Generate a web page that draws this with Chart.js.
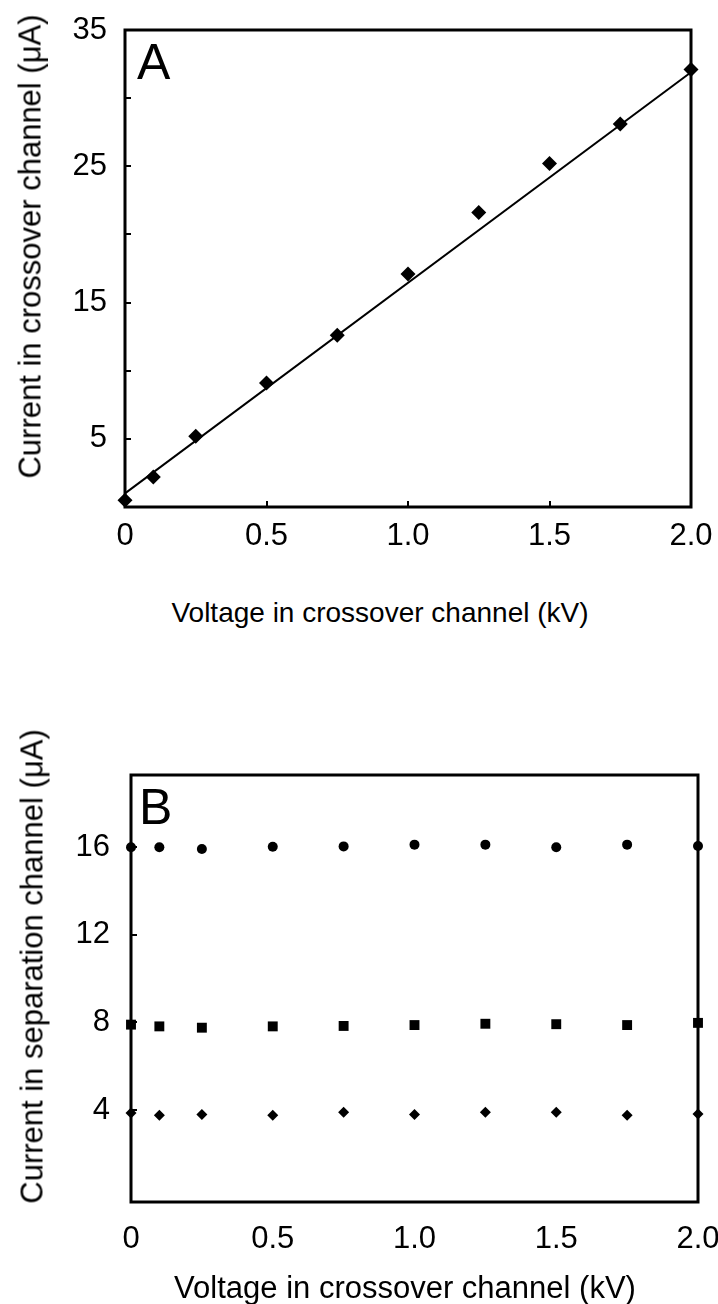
<!DOCTYPE html>
<html>
<head>
<meta charset="utf-8">
<script src="https://cdn.jsdelivr.net/npm/chart.js@4.4.0/dist/chart.umd.min.js"></script>
<style>
html, body { margin: 0; padding: 0; background: #fff; }
body { width: 718px; height: 1304px; position: relative; overflow: hidden; font-family: "Liberation Sans", Arial, sans-serif; color: #000; }
.panel { position: absolute; left: 0; width: 718px; }
#wrapA { top: 0; height: 560px; }
#wrapB { top: 720px; height: 560px; }
.tag { position: absolute; font-size: 50px; line-height: 1; }
.title { position: absolute; white-space: nowrap; text-align: center; font-size: 31px; line-height: 31px; height: 31px; }
.rot { transform: rotate(-90deg); transform-origin: 50% 50%; }
</style>
</head>
<body>
<div class="panel" id="wrapA"><canvas id="chartA"></canvas></div>
<div class="panel" id="wrapB"><canvas id="chartB"></canvas></div>
<div class="tag" style="left:137px;top:37px">A</div>
<div class="tag" style="left:139px;top:782px">B</div>
<div class="title" style="left:130px;width:500px;top:597px;font-size:28px">Voltage in crossover channel (kV)</div>
<div class="title rot" style="left:-220px;width:500px;top:231px">Current in crossover channel (&#956;A)</div>
<div class="title" style="left:155px;width:500px;top:1272px">Voltage in crossover channel (kV)</div>
<div class="title rot" style="left:-218px;width:500px;top:951px">Current in separation channel (&#956;A)</div>
<script>
// voltage steps shared by both panels (kV)
const voltage = [0, 0.1, 0.25, 0.5, 0.75, 1.0, 1.25, 1.5, 1.75, 2.0];

// panel A: crossover channel current (uA) and the fitted line
const crossoverCurrent = [0.5, 2.2, 5.2, 9.1, 12.6, 17.1, 21.6, 25.2, 28.1, 32.1];
const fitVoltage = [0, 2.0];
const fitCurrent = [1.0, 31.9];

// panel B: separation channel current (uA), three runs
const sepCircle = [16.0, 16.0, 15.92, 16.02, 16.04, 16.12, 16.12, 16.0, 16.12, 16.06];
const sepSquare = [7.9, 7.82, 7.76, 7.82, 7.84, 7.88, 7.94, 7.92, 7.88, 7.98];
const sepDiamond = [3.86, 3.76, 3.8, 3.76, 3.9, 3.8, 3.9, 3.9, 3.76, 3.82];

// ticks
const xTickValues = [0, 0.5, 1.0, 1.5, 2.0];
const xTickLabels = ['0', '0.5', '1.0', '1.5', '2.0'];
const yTickMarksA = [0, 5, 10, 15, 20, 25, 30, 35];
const yTickLabelsA = [5, 15, 25, 35];
const yTicksB = [4, 8, 12, 16];

const FONT = '"Liberation Sans", Arial, sans-serif';

const toPoints = (xs, ys) => xs.map((x, i) => ({ x: x, y: ys[i] }));

// box around the plot area
const frame = {
    id: 'frame',
    beforeDatasetsDraw(chart) {
        const { ctx, chartArea } = chart;
        ctx.save();
        ctx.strokeStyle = '#000';
        ctx.lineWidth = 3;
        ctx.strokeRect(chartArea.left, chartArea.top, chartArea.right - chartArea.left, chartArea.bottom - chartArea.top);
        ctx.restore();
    }
};

function xLabel(value) {
    const i = xTickValues.indexOf(value);
    return i >= 0 ? xTickLabels[i] : '';
}

// fixed axis box sizes, no extra room for edge labels
function fixSize(w, h) {
    return scale => {
        if (w !== null) scale.width = w;
        if (h !== null) scale.height = h;
        scale.paddingTop = 0;
        scale.paddingBottom = 0;
        scale.paddingLeft = 0;
        scale.paddingRight = 0;
    };
}

// panel A
new Chart(document.getElementById('chartA'), {
    type: 'scatter',
    data: {
        datasets: [
            {
                data: toPoints(fitVoltage, fitCurrent),
                showLine: true,
                borderColor: '#000',
                borderWidth: 2,
                pointRadius: 0,
                clip: false
            },
            {
                data: toPoints(voltage, crossoverCurrent),
                pointStyle: 'rectRot',
                pointRadius: 7.5,
                backgroundColor: '#000',
                borderColor: '#000',
                borderWidth: 0,
                clip: false
            }
        ]
    },
    options: {
        responsive: true,
        maintainAspectRatio: false,
        devicePixelRatio: 1,
        animation: false,
        events: [],
        layout: { padding: { top: 30, right: 27, left: 0, bottom: 0 } },
        plugins: { legend: { display: false }, tooltip: { enabled: false } },
        scales: {
            x: {
                type: 'linear',
                min: 0,
                max: 2.0,
                afterBuildTicks: scale => { scale.ticks = xTickValues.map(v => ({ value: v })); },
                afterFit: fixSize(null, 53),
                grid: { drawOnChartArea: false, drawTicks: true, tickLength: -6, color: '#000', lineWidth: 2 },
                border: { display: false },
                ticks: {
                    autoSkip: false,
                    maxRotation: 0,
                    padding: 17,
                    color: '#000',
                    font: { family: FONT, size: 31 },
                    callback: v => xLabel(v)
                }
            },
            y: {
                type: 'linear',
                min: 0,
                max: 35,
                afterBuildTicks: scale => { scale.ticks = yTickMarksA.map(v => ({ value: v })); },
                afterFit: fixSize(125, null),
                grid: { drawOnChartArea: false, drawTicks: true, tickLength: -6, color: '#000', lineWidth: 2 },
                border: { display: false },
                ticks: {
                    autoSkip: false,
                    padding: 24,
                    color: '#000',
                    font: { family: FONT, size: 31 },
                    callback: v => (yTickLabelsA.includes(v) ? String(v) : '')
                }
            }
        }
    },
    plugins: [frame]
});

// panel B
new Chart(document.getElementById('chartB'), {
    type: 'scatter',
    data: {
        datasets: [
            {
                data: toPoints(voltage, sepCircle),
                pointStyle: 'circle',
                pointRadius: 5,
                backgroundColor: '#000',
                borderWidth: 0,
                clip: false
            },
            {
                data: toPoints(voltage, sepSquare),
                pointStyle: 'rect',
                pointRadius: 7,
                backgroundColor: '#000',
                borderWidth: 0,
                clip: false
            },
            {
                data: toPoints(voltage, sepDiamond),
                pointStyle: 'rectRot',
                pointRadius: 5.5,
                backgroundColor: '#000',
                borderWidth: 0,
                clip: false
            }
        ]
    },
    options: {
        responsive: true,
        maintainAspectRatio: false,
        devicePixelRatio: 1,
        animation: false,
        events: [],
        layout: { padding: { top: 55, right: 20, left: 0, bottom: 0 } },
        plugins: { legend: { display: false }, tooltip: { enabled: false } },
        scales: {
            x: {
                type: 'linear',
                min: 0,
                max: 2.0,
                afterBuildTicks: scale => { scale.ticks = xTickValues.map(v => ({ value: v })); },
                afterFit: fixSize(null, 78),
                grid: { display: false },
                border: { display: false },
                ticks: {
                    autoSkip: false,
                    maxRotation: 0,
                    padding: 11,
                    color: '#000',
                    font: { family: FONT, size: 31 },
                    callback: v => xLabel(v)
                }
            },
            y: {
                type: 'linear',
                min: -0.2,
                max: 19.3,
                afterBuildTicks: scale => { scale.ticks = yTicksB.map(v => ({ value: v })); },
                afterFit: fixSize(131, null),
                grid: { drawOnChartArea: false, drawTicks: true, tickLength: -6, color: '#000', lineWidth: 2 },
                border: { display: false },
                ticks: {
                    autoSkip: false,
                    padding: 27,
                    color: '#000',
                    font: { family: FONT, size: 31 },
                    callback: v => String(v)
                }
            }
        }
    },
    plugins: [frame]
});
</script>
</body>
</html>
